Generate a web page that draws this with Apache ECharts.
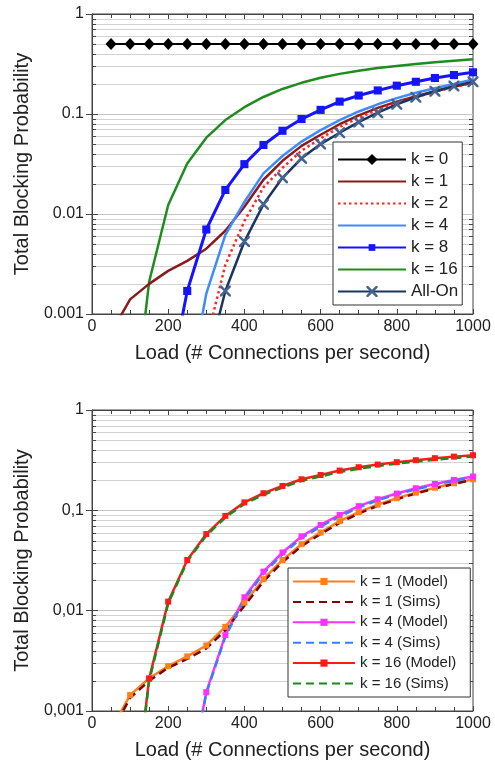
<!DOCTYPE html>
<html>
<head>
<meta charset="utf-8">
<script src="https://cdn.jsdelivr.net/npm/echarts@6/dist/echarts.min.js"></script>
<style>
html,body{margin:0;padding:0;background:#fff;}
#chart{width:495px;height:764px;}
</style>
</head>
<body>
<div id="chart"></div>
<script>
// ---------- data ----------
const loads = [50,100,150,200,250,300,350,400,450,500,550,600,650,700,750,800,850,900,950,1000];

// top chart
const k0 = [0.5,0.5,0.5,0.5,0.5,0.5,0.5,0.5,0.5,0.5,0.5,0.5,0.5,0.5,0.5,0.5,0.5,0.5,0.5,0.5];
const k1 = [0.00065,0.0014,0.002,0.0027,0.0034,0.0045,0.0068,0.0118,0.022,0.034,0.048,0.062,0.079,0.097,0.115,0.133,0.151,0.169,0.187,0.206];
const k2 = [null,null,null,null,null,0.00053,0.0031,0.0085,0.0185,0.029,0.043,0.057,0.074,0.092,0.11,0.129,0.148,0.167,0.186,0.205];
const k4 = [null,null,null,null,0.00015,0.0016,0.0062,0.0132,0.0255,0.038,0.053,0.069,0.087,0.106,0.125,0.144,0.163,0.181,0.2,0.222];
const k8 = [null,null,null,0.00018,0.0017,0.007,0.0174,0.0315,0.049,0.068,0.089,0.11,0.133,0.153,0.172,0.192,0.21,0.229,0.245,0.261];
const k16 = [null,0.00005,0.0021,0.0123,0.032,0.058,0.087,0.117,0.148,0.178,0.205,0.23,0.252,0.271,0.288,0.302,0.316,0.329,0.341,0.352];
const allOn = [null,null,null,null,null,0.0003,0.0017,0.0053,0.0125,0.023,0.036,0.05,0.065,0.083,0.103,0.125,0.147,0.169,0.19,0.21];

// bottom chart
const k1Model = [0.00065,0.00144,0.00212,0.0028,0.0035,0.0045,0.0069,0.012,0.0206,0.032,0.046,0.06,0.078,0.096,0.114,0.132,0.15,0.168,0.186,0.204];
const k1Sims = [0.0006,0.00135,0.002,0.0027,0.0033,0.0042,0.0064,0.0112,0.0195,0.0305,0.044,0.058,0.075,0.093,0.111,0.129,0.147,0.165,0.183,0.202];
const k4Model = [null,null,null,null,0.00016,0.00154,0.0057,0.0136,0.0245,0.038,0.055,0.0715,0.09,0.11,0.129,0.147,0.166,0.183,0.201,0.217];
const k4Sims = [null,null,null,null,0.00015,0.0015,0.0055,0.013,0.0235,0.0365,0.053,0.069,0.087,0.107,0.126,0.144,0.162,0.18,0.197,0.213];
const k16Model = [null,0.00005,0.0021,0.0123,0.032,0.058,0.088,0.12,0.148,0.175,0.204,0.225,0.249,0.269,0.286,0.302,0.316,0.331,0.343,0.354];
const k16Sims = [null,0.00005,0.002,0.0118,0.031,0.056,0.085,0.116,0.143,0.169,0.197,0.218,0.241,0.26,0.277,0.292,0.306,0.32,0.332,0.343];

// tick labels
const yTicksTop = ['0.001','0.01','0.1','1'];
const yTicksBottom = ['0,001','0,01','0,1','1'];
const minorGridVals = [0.002,0.003,0.004,0.005,0.006,0.007,0.008,0.009,0.02,0.03,0.04,0.05,0.06,0.07,0.08,0.09,0.2,0.3,0.4,0.5,0.6,0.7,0.8,0.9];

// ---------- helpers ----------
const FONT = 'Liberation Sans, Arial, Helvetica, sans-serif';
const TXT = '#222';
const AX = '#444';
function pairs(vals){ return loads.map((x,i)=>[x, vals[i]]).filter(d=>d[1]!=null); }
const xShape = 'path://M0,0 L1.6,0 L5,3.4 L8.4,0 L10,0 L10,1.6 L6.6,5 L10,8.4 L10,10 L8.4,10 L5,6.6 L1.6,10 L0,10 L0,8.4 L3.4,5 L0,1.6 Z';
// square that fills 60% of its symbol box (M points only widen the box)
const smallSquare = 'path://M0,0 M10,10 M2,2 L8,2 L8,8 L2,8 Z';

function xAxisDef(gridIndex, pos, showLabel, showName){
  return {
    type:'value', gridIndex, position:pos, min:0, max:1000, interval:200,
    axisLine:{show:true, lineStyle:{color:AX, width:1}},
    axisTick:{show:true, inside:true, length:5, lineStyle:{color:AX}},
    minorTick:{show:true, splitNumber:4, length:4, lineStyle:{color:AX}},
    splitLine:{show:false},
    axisLabel:{show:showLabel, fontSize:16, color:TXT, fontFamily:FONT, margin:5, formatter:(v)=>String(v)},
    name: showName ? 'Load (# Connections per second)' : '',
    nameLocation:'middle', nameGap:29, nameMoveOverlap:false,
    nameTextStyle:{fontSize:20, color:TXT, fontFamily:FONT}
  };
}
function yAxisDef(gridIndex, pos, labels){
  return {
    type:'log', logBase:10, gridIndex, position:pos, min:0.001, max:1,
    axisLine:{show:true, lineStyle:{color:AX, width:1}},
    axisTick:{show:true, inside:true, length:6, lineStyle:{color:AX}},
    splitLine:{show: pos==='left', lineStyle:{color:'#c4c4c4', width:1}},
    axisLabel:{show: !!labels, fontSize:16, color:TXT, fontFamily:FONT, margin:8,
      formatter: labels ? (v)=>labels[Math.round(Math.log10(v))+3] : undefined},
    name: labels ? 'Total Blocking Probability' : '',
    nameLocation:'middle', nameGap:60, nameMoveOverlap:false,
    nameTextStyle:{fontSize:20, color:TXT, fontFamily:FONT}
  };
}
function gridRender(params, api){
  const cs = params.coordSys;
  const p = api.coord([0, api.value(1)]);
  const y = Math.round(p[1]) + 0.5;
  const x0 = cs.x, x1 = cs.x + cs.width;
  return {type:'group', children:[
    {type:'line', shape:{x1:x0, y1:y, x2:x1, y2:y}, style:{stroke:'#d2d2d2', lineWidth:1}},
    {type:'line', shape:{x1:x0, y1:y, x2:x0+4, y2:y}, style:{stroke:AX, lineWidth:1}},
    {type:'line', shape:{x1:x1-4, y1:y, x2:x1, y2:y}, style:{stroke:AX, lineWidth:1}}
  ]};
}
function gridSeries(xi, yi){
  return {type:'custom', xAxisIndex:xi, yAxisIndex:yi, silent:true, z:1,
    renderItem:gridRender, data:minorGridVals.map(v=>[0,v]), clip:false, animation:false};
}
function lineS(name, vals, xi, yi, color, width, opts){
  return Object.assign({
    type:'line', name, data:pairs(vals), xAxisIndex:xi, yAxisIndex:yi, z:3,
    symbol:'none', clip:true, animation:false,
    lineStyle:{color, width}, itemStyle:{color}
  }, opts||{});
}

const series = [
  gridSeries(0,0),
  gridSeries(2,2),
  lineS('k = 16', k16, 0,0, '#1e8c1e', 2.5),
  lineS('k = 1', k1, 0,0, '#8b1a1a', 2.5),
  lineS('k = 4', k4, 0,0, '#3d8bff', 2.5),
  lineS('k = 2', k2, 0,0, '#ff2424', 2.5, {lineStyle:{color:'#ff2424', width:2.5, type:[2.5,3]}}),
  lineS('All-On', allOn, 0,0, '#1a3560', 2.5, {symbol:xShape, symbolSize:11, itemStyle:{color:'#45638f'}}),
  lineS('k = 8', k8, 0,0, '#1414ff', 3, {symbol:smallSquare, symbolSize:13.5}),
  lineS('k = 0', k0, 0,0, '#000000', 2, {symbol:'diamond', symbolSize:[11,12]}),

  lineS('k = 1 (Model)', k1Model, 2,2, '#ff7f1e', 2.5, {symbol:'rect', symbolSize:6}),
  lineS('k = 4 (Model)', k4Model, 2,2, '#ff30ff', 2.5, {symbol:'rect', symbolSize:6}),
  lineS('k = 16 (Model)', k16Model, 2,2, '#ff1a1a', 2.5, {symbol:'rect', symbolSize:6}),
  lineS('k = 1 (Sims)', k1Sims, 2,2, '#7a0a0a', 2.5, {lineStyle:{color:'#7a0a0a', width:2.5, type:[8,5]}}),
  lineS('k = 4 (Sims)', k4Sims, 2,2, '#3a7dff', 2.5, {lineStyle:{color:'#3a7dff', width:2.5, type:[8,5]}}),
  lineS('k = 16 (Sims)', k16Sims, 2,2, '#1a8a1a', 2.5, {lineStyle:{color:'#1a8a1a', width:2.5, type:[8,5]}})
];

const noSym = {itemStyle:{opacity:0}};
const option = {
  backgroundColor:'#fff',
  animation:false,
  grid:[
    {left:92, top:14, width:381, height:300, show:true, borderColor:AX, borderWidth:1, containLabel:false},
    {left:92, top:410, width:381, height:301, show:true, borderColor:AX, borderWidth:1, containLabel:false}
  ],
  xAxis:[ xAxisDef(0,'bottom',true,true), xAxisDef(0,'top',false,false),
          xAxisDef(1,'bottom',true,true), xAxisDef(1,'top',false,false) ],
  yAxis:[ yAxisDef(0,'left',yTicksTop), yAxisDef(0,'right',null),
          yAxisDef(1,'left',yTicksBottom), yAxisDef(1,'right',null) ],
  legend:[
    {orient:'vertical', left:333, top:142, itemWidth:68, itemHeight:14, itemGap:5,
     padding:[9,4,5,4], borderColor:'#333', borderWidth:1, backgroundColor:'#fff',
     textStyle:{fontSize:17, color:TXT, fontFamily:FONT}, selectedMode:false,
     data:[{name:'k = 0'},Object.assign({name:'k = 1'},noSym),Object.assign({name:'k = 2'},noSym),
           Object.assign({name:'k = 4'},noSym),{name:'k = 8'},Object.assign({name:'k = 16'},noSym),{name:'All-On'}]},
    {orient:'vertical', left:288, top:568, itemWidth:62, itemHeight:9, itemGap:5.4,
     padding:[6,14,6,4], borderColor:'#333', borderWidth:1, backgroundColor:'#fff',
     textStyle:{fontSize:15, color:TXT, fontFamily:FONT}, selectedMode:false,
     data:[{name:'k = 1 (Model)'},Object.assign({name:'k = 1 (Sims)'},noSym),{name:'k = 4 (Model)'},
           Object.assign({name:'k = 4 (Sims)'},noSym),{name:'k = 16 (Model)'},Object.assign({name:'k = 16 (Sims)'},noSym)]}
  ],
  series
};
const chart = echarts.init(document.getElementById('chart'), null, {renderer:'canvas'});
chart.setOption(option);
</script>
</body>
</html>
